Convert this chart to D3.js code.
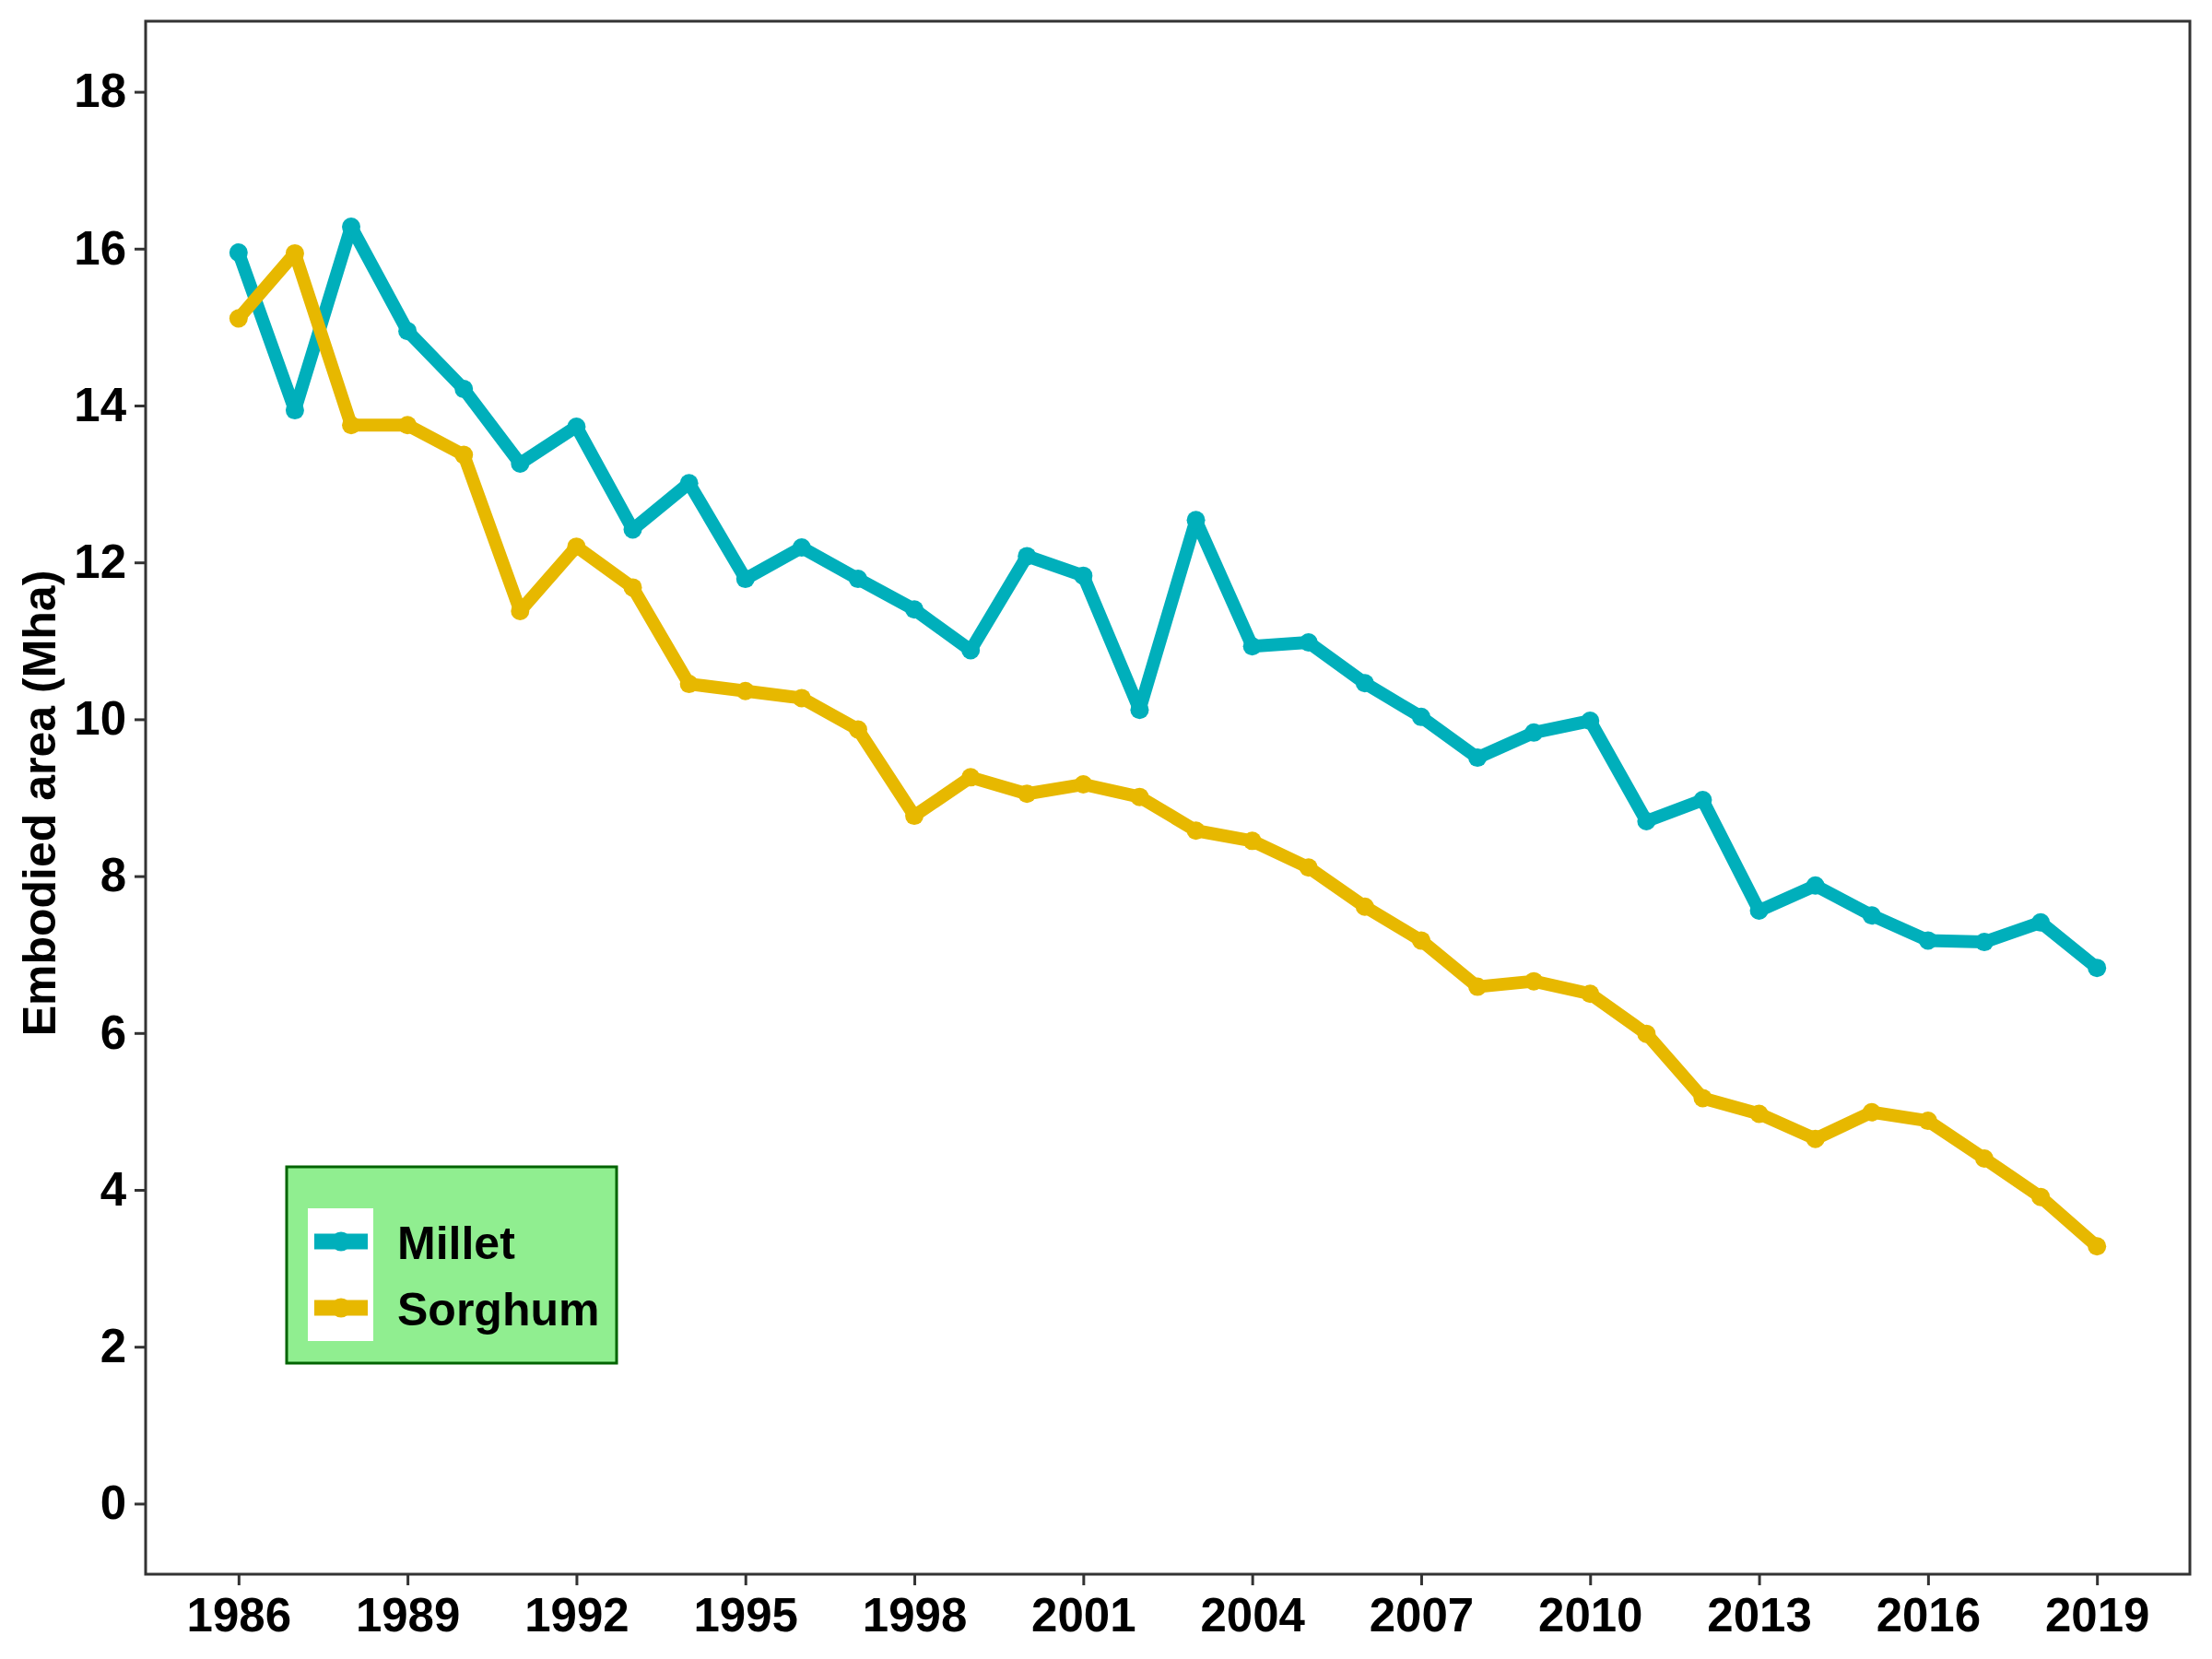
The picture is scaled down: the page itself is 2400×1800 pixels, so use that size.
<!DOCTYPE html>
<html>
<head>
<meta charset="utf-8">
<script src="https://cdn.jsdelivr.net/npm/d3@7"></script>
<style>
  body { margin: 0; background: #fff; }
  svg text { font-family: "Liberation Sans", Arial, sans-serif; font-weight: bold; }
</style>
</head>
<body>
<svg id="chart" width="2400" height="1800"></svg>
<script>
// values (Mha)
var years = d3.range(1986, 2020);
var millet = [15.95, 13.94, 16.28, 14.95, 14.21, 13.26, 13.73, 12.42, 13.01, 11.79,
              12.19, 11.79, 11.40, 10.88, 12.08, 11.83, 10.12, 12.54, 10.93, 10.98,
              10.46, 10.03, 9.51, 9.83, 9.98, 8.70, 8.97, 7.56, 7.88, 7.50,
              7.18, 7.16, 7.41, 6.83];
var sorghum = [15.11, 15.94, 13.75, 13.75, 13.37, 11.38, 12.20, 11.68, 10.45, 10.36,
               10.27, 9.87, 8.77, 9.26, 9.05, 9.17, 9.01, 8.58, 8.45, 8.11,
               7.61, 7.18, 6.59, 6.66, 6.50, 5.99, 5.17, 4.97, 4.65, 4.99,
               4.88, 4.40, 3.91, 3.28];
var seriesNames = ["Millet", "Sorghum"];
var seriesColors = ["#00AFBB", "#E7B800"];
var xTicks = d3.range(1986, 2020, 3);
var yTicks = [0, 2, 4, 6, 8, 10, 12, 14, 16, 18];

(function(){
var svg = d3.select("#chart");
var pLeft = 158, pRight = 2376, pTop = 23, pBottom = 1708;

// ggplot style 5% expansion
var x = d3.scaleLinear().domain([1986 - 1.65, 2019 + 1.65]).range([pLeft, pRight]);
var y = d3.scaleLinear().domain([-0.9, 18.9]).range([pBottom, pTop]);

var series = [millet, sorghum].map(function(vals, i){
	return { name: seriesNames[i], color: seriesColors[i],
		values: vals.map(function(v, j){ return { year: years[j], v: v }; }) };
});

// axes
var xAxis = d3.axisBottom(x).tickValues(xTicks).tickFormat(d3.format("d")).tickSize(12).tickPadding(9);
var yAxis = d3.axisLeft(y).tickValues(yTicks).tickSize(12).tickPadding(9);

var gx = svg.append("g").attr("transform", "translate(0," + pBottom + ")").call(xAxis);
var gy = svg.append("g").attr("transform", "translate(" + pLeft + ",0)").call(yAxis);
[gx, gy].forEach(function(g){
	g.select(".domain").remove();
	g.selectAll(".tick line").attr("stroke", "#333").attr("stroke-width", 3);
	g.selectAll(".tick text").attr("fill", "#000").style("font-size", "51px");
});
gx.selectAll(".tick text").attr("dy", "0.8em");

// lines + points
var line = d3.line().x(function(d){ return x(d.year); }).y(function(d){ return y(d.v); });
series.forEach(function(s){
	svg.append("path").datum(s.values)
		.attr("d", line)
		.attr("fill", "none")
		.attr("stroke", s.color)
		.attr("stroke-width", 14)
		.attr("stroke-linejoin", "round");
	svg.append("g").selectAll("circle").data(s.values).enter().append("circle")
		.attr("cx", function(d){ return x(d.year); })
		.attr("cy", function(d){ return y(d.v); })
		.attr("r", 10)
		.attr("fill", s.color);
});

// panel border
svg.append("rect")
	.attr("x", pLeft).attr("y", pTop)
	.attr("width", pRight - pLeft).attr("height", pBottom - pTop)
	.attr("fill", "none").attr("stroke", "#333").attr("stroke-width", 3);

// y title
svg.append("text")
	.attr("transform", "translate(43," + ((pTop + pBottom) / 2 + 6) + ") rotate(-90)")
	.attr("text-anchor", "middle")
	.attr("dominant-baseline", "central")
	.style("font-size", "50px")
	.text("Embodied area (Mha)");

// legend
var lg = svg.append("g");
lg.append("rect").attr("x", 311).attr("y", 1266).attr("width", 358).attr("height", 213)
	.attr("fill", "#90EE90").attr("stroke", "#006400").attr("stroke-width", 3);
lg.append("rect").attr("x", 334).attr("y", 1311).attr("width", 71).attr("height", 144).attr("fill", "#fff");
series.forEach(function(s, i){
	var ky = 1347 + i * 72;
	lg.append("line").attr("x1", 341).attr("x2", 399).attr("y1", ky).attr("y2", ky)
		.attr("stroke", s.color).attr("stroke-width", 17);
	lg.append("circle").attr("cx", 370).attr("cy", ky).attr("r", 10.5).attr("fill", s.color);
	lg.append("text").attr("x", 431).attr("y", ky + 2).attr("dominant-baseline", "central")
		.style("font-size", "50px").attr("fill", "#000").text(s.name);
});
})();
</script>
</body>
</html>
